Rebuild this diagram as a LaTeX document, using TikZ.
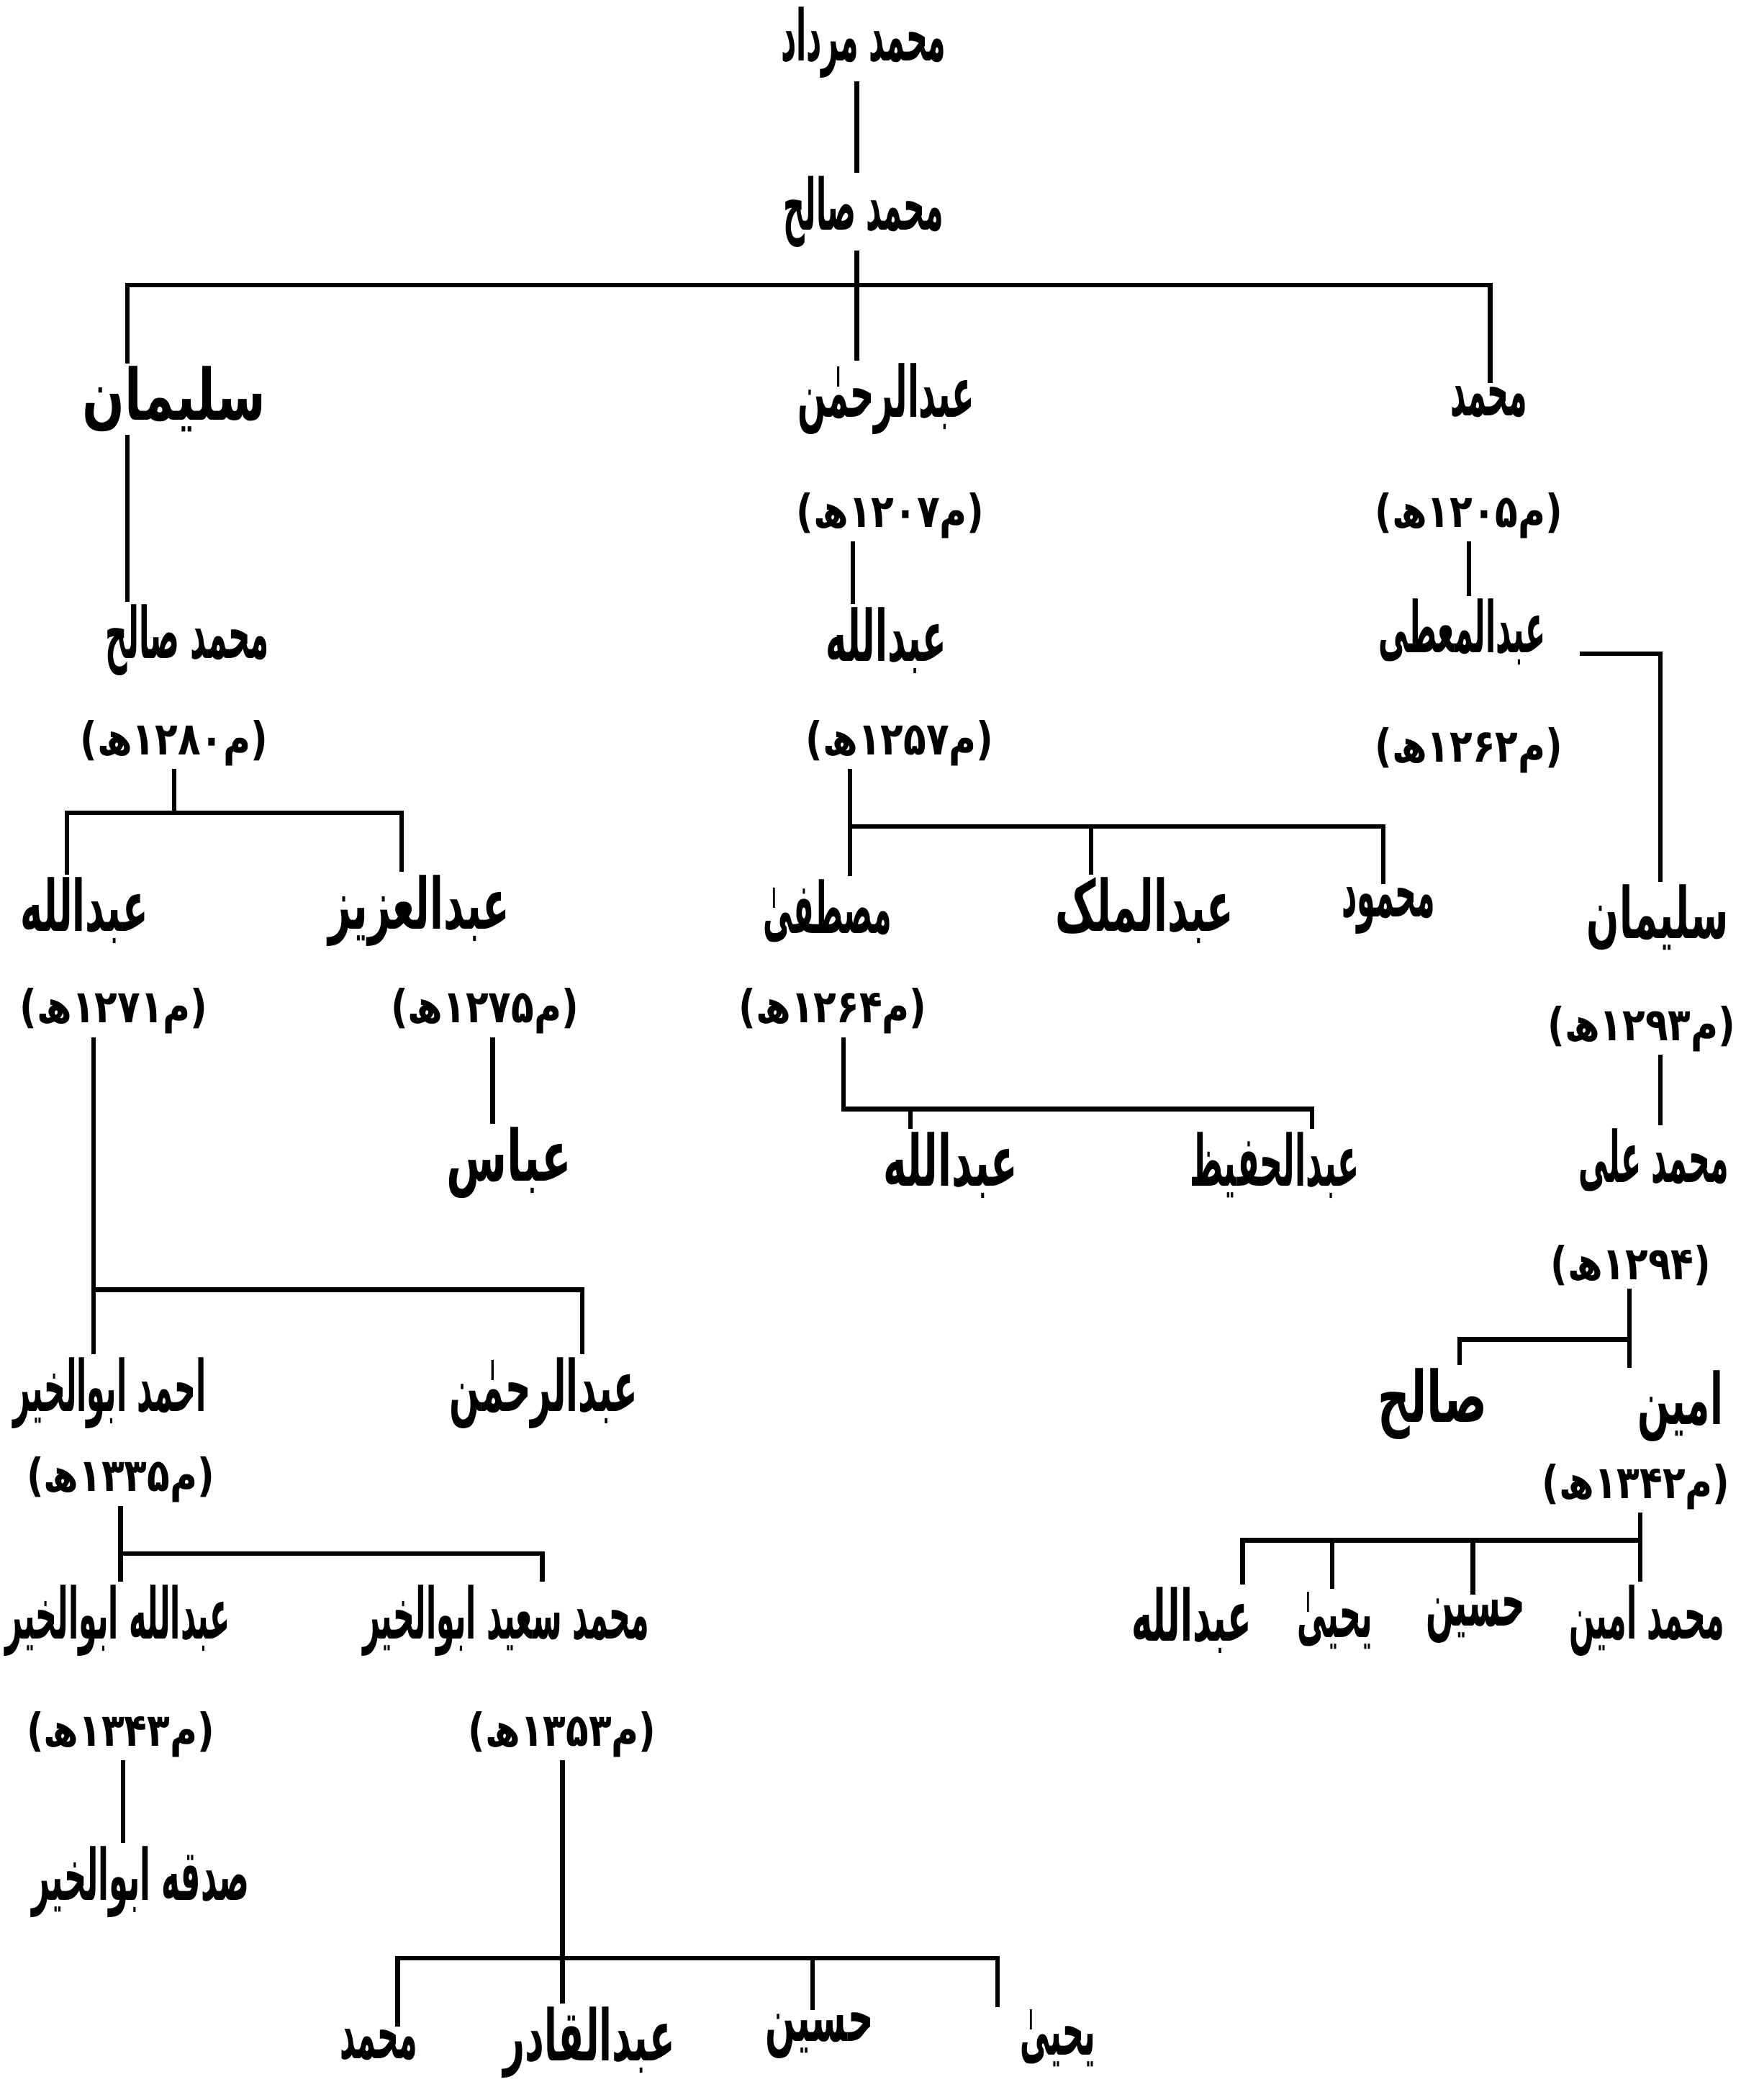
\documentclass[tikz,border=0pt]{standalone}
\usepackage{graphicx}
\usepackage{fontspec}
\newfontfamily\ur[Script=Arabic]{DejaVu Sans}
\TeXXeTstate=1
\newcommand\dtx[1]{\scalebox{0.82}[1]{#1}}
\newcommand\nmx[2]{\scalebox{#1}[1]{#2}}
\tikzset{
  nm/.style={font=\ur\bfseries\fontsize{28}{32}\selectfont, inner sep=1pt},
  dt/.style={font=\ur\bfseries\fontsize{18}{22}\selectfont, inner sep=1pt},
  ln/.style={line width=1.8pt, line cap=butt, line join=miter},
}
\begin{document}
\begin{tikzpicture}[x={(0.0186cm,0)}, y={(0,-0.0186cm)}]
\fill[white] (0,0) rectangle (1300,1568);
\useasboundingbox (0,0) rectangle (1300,1568);
% ---------- names ----------
\node[nm] (top) at (645,32) {\nmx{0.42}{\beginR محمد مرداد\endR}};
\node[nm] (ms) at (645,158) {\nmx{0.42}{\beginR محمد صالح\endR}};
\node[nm] (sul1) at (130,298) {\nmx{0.70}{\beginR سلیمان\endR}};
\node[nm] (abr1) at (662,298) {\nmx{0.47}{\beginR عبدالرحمٰن\endR}};
\node[nm] (muh1) at (1112,300) {\nmx{0.42}{\beginR محمد\endR}};
\node[nm] (msl) at (140,478) {\nmx{0.43}{\beginR محمد صالح\endR}};
\node[nm] (abd3) at (662,478) {\nmx{0.5}{\beginR عبدالله\endR}};
\node[nm] (mutti) at (1092,472) {\nmx{0.42}{\beginR عبدالمعطی\endR}};
\node[nm] (abd1) at (63,680) {\nmx{0.53}{\beginR عبدالله\endR}};
\node[nm] (aziz) at (313,680) {\nmx{0.56}{\beginR عبدالعزیز\endR}};
\node[nm] (mustafa) at (618,680) {\nmx{0.42}{\beginR مصطفیٰ\endR}};
\node[nm] (malik) at (855,680) {\nmx{0.56}{\beginR عبدالملک\endR}};
\node[nm] (mahmud) at (1037,680) {\nmx{0.42}{\beginR محمود\endR}};
\node[nm] (sul2) at (1238,685) {\nmx{0.54}{\beginR سلیمان\endR}};
\node[nm] (abbas) at (380,868) {\nmx{0.62}{\beginR عباس\endR}};
\node[nm] (abd4) at (710,870) {\nmx{0.56}{\beginR عبدالله\endR}};
\node[nm] (hafiz) at (952,870) {\nmx{0.45}{\beginR عبدالحفیظ\endR}};
\node[nm] (mali) at (1235,866) {\nmx{0.42}{\beginR محمد علی\endR}};
\node[nm] (ahmad) at (82,1040) {\nmx{0.42}{\beginR احمد ابوالخیر\endR}};
\node[nm] (abr2) at (406,1040) {\nmx{0.5}{\beginR عبدالرحمٰن\endR}};
\node[nm] (amin) at (1255,1050) {\nmx{0.53}{\beginR امین\endR}};
\node[nm] (salih) at (1070,1048) {\nmx{0.63}{\beginR صالح\endR}};
\node[nm] (abd2) at (88,1210) {\nmx{0.42}{\beginR عبدالله ابوالخیر\endR}};
\node[nm] (said) at (378,1210) {\nmx{0.42}{\beginR محمد سعید ابوالخیر\endR}};
\node[nm] (mamin) at (1230,1210) {\nmx{0.42}{\beginR محمد امین\endR}};
\node[nm] (husain1) at (1102,1210) {\nmx{0.46}{\beginR حسین\endR}};
\node[nm] (yahya1) at (997,1210) {\nmx{0.42}{\beginR یحییٰ\endR}};
\node[nm] (abd5) at (890,1210) {\nmx{0.5}{\beginR عبدالله\endR}};
\node[nm] (sadqa) at (105,1405) {\nmx{0.44}{\beginR صدقه ابوالخیر\endR}};
\node[nm] (muh2) at (283,1527) {\nmx{0.42}{\beginR محمد\endR}};
\node[nm] (qadir) at (440,1525) {\nmx{0.53}{\beginR عبدالقادر\endR}};
\node[nm] (husain2) at (612,1520) {\nmx{0.5}{\beginR حسین\endR}};
\node[nm] (yahya2) at (790,1522) {\nmx{0.42}{\beginR یحییٰ\endR}};
% ---------- dates ----------
\node[dt] (d1207) at (665,385) {\dtx{\beginR(م۱۲۰۷ھ)\endR}};
\node[dt] (d1205) at (1097,385) {\dtx{\beginR(م۱۲۰۵ھ)\endR}};
\node[dt] (d1280) at (130,555) {\dtx{\beginR(م۱۲۸۰ھ)\endR}};
\node[dt] (d1257) at (672,555) {\dtx{\beginR(م۱۲۵۷ھ)\endR}};
\node[dt] (d1262) at (1097,560) {\dtx{\beginR(م۱۲۶۲ھ)\endR}};
\node[dt] (d1271) at (85,755) {\dtx{\beginR(م۱۲۷۱ھ)\endR}};
\node[dt] (d1275) at (362,755) {\dtx{\beginR(م۱۲۷۵ھ)\endR}};
\node[dt] (d1264) at (622,755) {\dtx{\beginR(م۱۲۶۴ھ)\endR}};
\node[dt] (d1293) at (1226,768) {\dtx{\beginR(م۱۲۹۳ھ)\endR}};
\node[dt] (d1294) at (1218,945) {\dtx{\beginR(۱۲۹۴ھ)\endR}};
\node[dt] (d1335) at (90,1105) {\dtx{\beginR(م۱۳۳۵ھ)\endR}};
\node[dt] (d1342) at (1222,1110) {\dtx{\beginR(م۱۳۴۲ھ)\endR}};
\node[dt] (d1343) at (90,1295) {\dtx{\beginR(م۱۳۴۳ھ)\endR}};
\node[dt] (d1353) at (420,1295) {\dtx{\beginR(م۱۳۵۳ھ)\endR}};
% ---------- connectors ----------
% root
\coordinate (j0) at (640,213);
\draw[ln] (j0 |- top.south) -- (j0 |- ms.north);
\draw[ln] (j0 |- ms.south) -- (j0 |- abr1.north);
\coordinate (b0L) at (95,213); \coordinate (b0R) at (1113,213);
\draw[ln] (b0L |- sul1.north) -- (b0L) -- (b0R) -- (b0R |- muh1.north);
% left branch
\draw[ln] (b0L |- sul1.south) -- (b0L |- msl.north);
\coordinate (j1) at (130,607);
\draw[ln] (j1 |- d1280.south) -- (j1);
\coordinate (b1L) at (50,607); \coordinate (b1R) at (300,607);
\draw[ln] (b1L |- abd1.north) -- (b1L) -- (b1R) -- (b1R |- aziz.north);
\coordinate (j2) at (368,800);
\draw[ln] (j2 |- d1275.south) -- (j2 |- abbas.north);
\coordinate (b2L) at (70,963); \coordinate (b2R) at (435,963);
\draw[ln] (b2L |- d1271.south) -- (b2L |- ahmad.north);
\draw[ln] (b2L) -- (b2R) -- (b2R |- abr2.north);
\coordinate (b3L) at (90,1160); \coordinate (b3R) at (405,1160);
\draw[ln] (b3L |- d1335.south) -- (b3L |- abd2.north);
\draw[ln] (b3L) -- (b3R) -- (b3R |- said.north);
\coordinate (j4) at (92,1340);
\draw[ln] (j4 |- d1343.south) -- (j4 |- sadqa.north);
\coordinate (j5) at (420,1462);
\coordinate (b5L) at (297,1462); \coordinate (b5R) at (745,1462);
\coordinate (b5M) at (607,1462);
\draw[ln] (j5 |- d1353.south) -- (j5 |- qadir.north);
\draw[ln] (b5L |- muh2.north) -- (b5L) -- (b5R) -- (b5R |- yahya2.north);
\draw[ln] (b5M) -- (b5M |- husain2.north);
% middle branch
\coordinate (j6) at (637,420);
\draw[ln] (j6 |- d1207.south) -- (j6 |- abd3.north);
\coordinate (b7L) at (635,617); \coordinate (b7R) at (1033,617);
\coordinate (b7M) at (815,617);
\draw[ln] (b7L |- d1257.south) -- (b7L |- mustafa.north);
\draw[ln] (b7L) -- (b7R) -- (b7R |- mahmud.north);
\draw[ln] (b7M) -- (b7M |- malik.north);
\coordinate (b8L) at (630,828); \coordinate (b8R) at (980,828);
\coordinate (b8M) at (680,828);
\draw[ln] (b8L |- d1264.south) -- (b8L) -- (b8R) -- (b8R |- hafiz.north);
\draw[ln] (b8M) -- (b8M |- abd4.north);
% right branch
\coordinate (j9) at (1097,420);
\draw[ln] (j9 |- d1205.south) -- (j9 |- mutti.north);
\coordinate (c9a) at (1180,488); \coordinate (c9) at (1240,488);
\draw[ln] (c9a) -- (c9) -- (c9 |- sul2.north);
\coordinate (j10) at (1240,800);
\draw[ln] (j10 |- d1293.south) -- (j10 |- mali.north);
\coordinate (b11R) at (1217,1000); \coordinate (b11L) at (1090,1000);
\draw[ln] (b11R |- d1294.south) -- (b11R |- amin.north);
\draw[ln] (b11R) -- (b11L) -- (b11L |- salih.north);
\coordinate (b12R) at (1225,1150); \coordinate (b12L) at (928,1150);
\coordinate (b12a) at (995,1150); \coordinate (b12b) at (1100,1150);
\draw[ln] (b12R |- d1342.south) -- (b12R |- mamin.north);
\draw[ln] (b12R) -- (b12L) -- (b12L |- abd5.north);
\draw[ln] (b12a) -- (b12a |- yahya1.north);
\draw[ln] (b12b) -- (b12b |- husain1.north);
\end{tikzpicture}
\end{document}
